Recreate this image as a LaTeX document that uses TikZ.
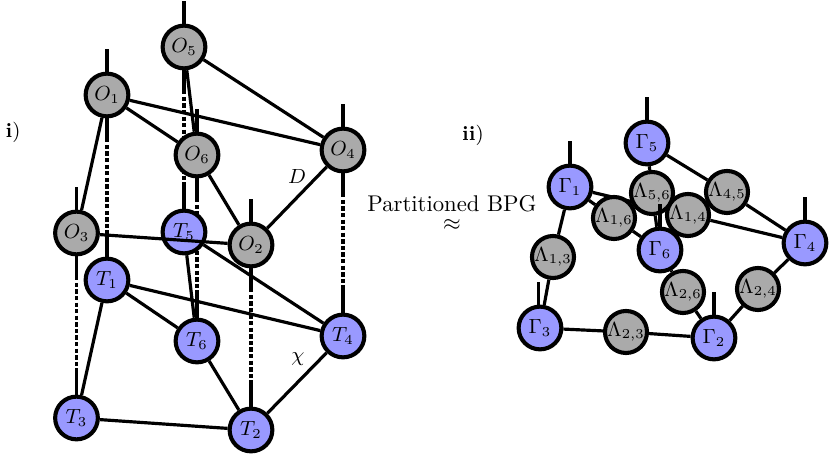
\documentclass[tikz,border=0pt]{standalone}
\pgfdeclarelayer{tedge}
\pgfdeclarelayer{linkl}
\pgfdeclarelayer{tnodel}
\pgfdeclarelayer{oedge}
\pgfsetlayers{tedge,linkl,tnodel,oedge,main}
\definecolor{tblue}{RGB}{153,153,255}
\definecolor{ogray}{RGB}{170,170,170}
\begin{document}
\begin{tikzpicture}[x=0.44pt,y=-0.44pt,
  bignode/.style={circle,draw,line width=1.8pt,minimum size=18.8pt,inner sep=0pt,font=\small},
  ond/.style={bignode,fill=ogray},
  tnd/.style={bignode,fill=tblue},
  lnd/.style={circle,draw,line width=1.8pt,minimum size=14.5pt,inner sep=0pt,fill=ogray,font=\small},
  bond/.style={line width=1.4pt},
  dlink/.style={line width=1.4pt,dash pattern=on 1.9pt off 1pt},
]
\useasboundingbox (0,0) rectangle (831,455);

% ---------- left: O layer ----------
\node[ond] (O5) at (184,47)  {$O_5$};
\node[ond] (O1) at (107,95)  {$O_1$};
\node[ond] (O6) at (197,155) {$O_6$};
\node[ond] (O4) at (343,150) {$O_4$};
\node[ond] (O3) at (76.5,233) {$O_3$};
\node[ond] (O2) at (251,245) {$O_2$};

% ---------- left: T layer ----------
\begin{pgfonlayer}{tnodel}
\node[tnd] (T5) at (184,232) {$T_5$};
\node[tnd] (T1) at (107,280) {$T_1$};
\node[tnd] (T6) at (197,341) {$T_6$};
\node[tnd] (T4) at (343,336) {$T_4$};
\node[tnd] (T3) at (76.5,418) {$T_3$};
\node[tnd] (T2) at (251,430) {$T_2$};
\end{pgfonlayer}

\begin{pgfonlayer}{tedge}
\draw[bond] (T1)--(T3) (T1)--(T6) (T1)--(T4) (T5)--(T6) (T5)--(T4)
            (T6)--(T2) (T3)--(T2) (T4)--(T2);
\end{pgfonlayer}

\begin{pgfonlayer}{linkl}
\foreach \i in {1,...,6} \draw[dlink] (O\i.south) -- (T\i.north);
\foreach \i in {1,...,6} \draw[bond] (T\i.north) -- ++(0,-23);
\end{pgfonlayer}

\begin{pgfonlayer}{oedge}
\draw[bond] (O1)--(O6) (O1)--(O4) (O1)--(O3) (O5)--(O6) (O5)--(O4)
            (O6)--(O2) (O4)--(O2) (O3)--(O2);
\foreach \i in {1,...,6} {
  \draw[bond] (O\i.north) -- ++(0,-23);
  \draw[bond] (O\i.south) -- ++(0,23);
}
\end{pgfonlayer}

\node[font=\small] (lD) at (297,177) {$D$};
\node[font=\small] (lchi) at (298,359) {$\chi$};
\node[font=\small] (li) at (13,132) {\textbf{i})};

% ---------- middle ----------
\node[inner sep=0pt,align=center] (lpbpg) at (452,213)
  {Partitioned BPG\\[-4pt]$\approx$};
\node[font=\small] (lii) at (473,135) {\textbf{ii})};

% ---------- right ----------
\node[tnd] (G5) at (647,143) {$\Gamma_5$};
\node[tnd] (G1) at (570,187) {$\Gamma_1$};
\node[tnd] (G6) at (660,250) {$\Gamma_6$};
\node[tnd] (G4) at (805,243) {$\Gamma_4$};
\node[tnd] (G3) at (540,328) {$\Gamma_3$};
\node[tnd] (G2) at (714,338) {$\Gamma_2$};

\begin{pgfonlayer}{tnodel}
\node[lnd] (L56) at (652,193) {$\Lambda_{5,6}$};
\node[lnd] (L45) at (727,192) {$\Lambda_{4,5}$};
\node[lnd] (L16) at (614,218) {$\Lambda_{1,6}$};
\node[lnd] (L14) at (688,215) {$\Lambda_{1,4}$};
\node[lnd] (L13) at (553,257) {$\Lambda_{1,3}$};
\node[lnd] (L26) at (683,292) {$\Lambda_{2,6}$};
\node[lnd] (L24) at (758,289) {$\Lambda_{2,4}$};
\node[lnd] (L23) at (626,332) {$\Lambda_{2,3}$};
\end{pgfonlayer}

\begin{pgfonlayer}{tedge}
\draw[bond] (G5)--(L56) (L56)--(G6) (G5)--(L45) (L45)--(G4)
            (G1)--(L16) (L16)--(G6) (G1)--(L14) (L14)--(G4)
            (G1)--(L13) (L13)--(G3) (G6)--(L26) (L26)--(G2)
            (G4)--(L24) (L24)--(G2) (G3)--(L23) (L23)--(G2);
\end{pgfonlayer}

\begin{pgfonlayer}{oedge}
\foreach \g in {G1,G2,G4,G5,G6} \draw[bond] (\g.north) -- ++(0,-23);
\draw[bond] ([xshift=-0.5]G3.north) -- ++(0,-23);
\end{pgfonlayer}
\end{tikzpicture}
\end{document}
